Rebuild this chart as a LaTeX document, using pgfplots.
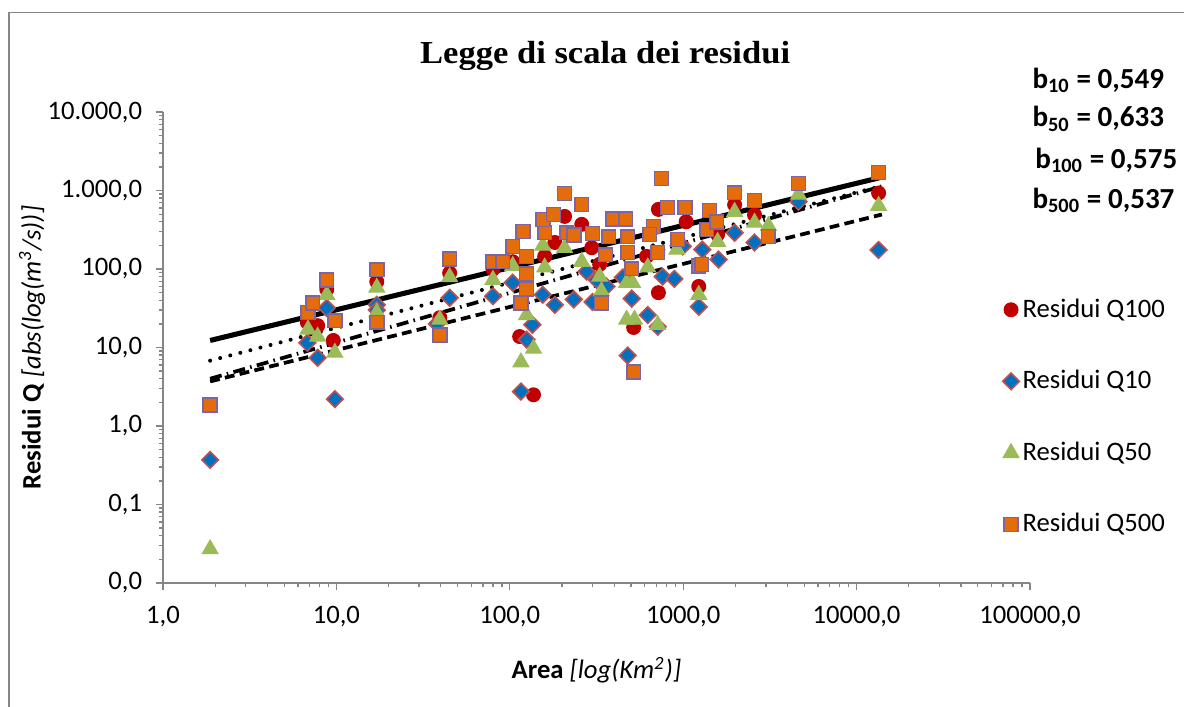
\documentclass[border=0pt]{standalone}
\usepackage{fontspec}
\setmainfont{Carlito}
\newfontfamily\titlefont[FakeStretch=1.08]{Liberation Serif}
\usepackage{pgfplots}
\pgfplotsset{compat=1.18}
\definecolor{qred}{HTML}{C00000}
\definecolor{qblue}{HTML}{0070C0}
\definecolor{qblueb}{HTML}{C0504D}
\definecolor{qgreen}{HTML}{9BBB59}
\definecolor{qorange}{HTML}{E46C0A}
\definecolor{qpurple}{HTML}{8064A2}
\definecolor{axgray}{HTML}{868686}
\begin{document}
\begin{tikzpicture}
\path[use as bounding box] (0,0) rectangle (444pt,265.125pt);
\draw[color=axgray, line width=0.6pt] (3.4pt,0pt) -- (3.4pt,260.4pt) -- (444pt,260.4pt);
\begin{axis}[
  at={(61.125pt,46.5pt)}, anchor=south west,
  scale only axis, width=325.1pt, height=176.6pt,
  xmode=log, ymode=log, xmin=1, xmax=100000, ymin=0.01, ymax=10000,
  axis x line*=bottom, axis y line*=left,
  axis line style={color=axgray, line width=0.6pt},
  tick style={color=axgray, line width=0.5pt},
  tick align=outside, major tick length=2.8pt, minor tick length=1.6pt,
  xtick={1,10,100,1000,10000,100000},
  xticklabels={{1,0},{10,0},{100,0},{1000,0},{10000,0},{100000,0}},
  minor xtick={2,3,4,5,6,7,8,9,20,30,40,50,60,70,80,90,200,300,400,500,600,700,800,900,2000,3000,4000,5000,6000,7000,8000,9000,20000,30000,40000,50000,60000,70000,80000,90000},
  ytick={0.01,0.1,1,10,100,1000,10000},
  yticklabels={{0,0},{0,1},{1,0},{10,0},{100,0},{1.000,0},{10.000,0}},
  minor ytick={0.02,0.03,0.04,0.05,0.06,0.07,0.08,0.09,0.2,0.3,0.4,0.5,0.6,0.7,0.8,0.9,2,3,4,5,6,7,8,9,20,30,40,50,60,70,80,90,200,300,400,500,600,700,800,900,2000,3000,4000,5000,6000,7000,8000,9000},
  ticklabel style={font=\fontsize{10}{12}\selectfont, text=black},
  yticklabel style={anchor=east, xshift=-1.5pt},
  xticklabel style={anchor=north, yshift=-2.5pt},
  title={\titlefont\bfseries Legge di scala dei residui},
  title style={at={(axis description cs:0.51,1.085)}, anchor=center, font=\fontsize{12}{14}\selectfont},
  xlabel={\textbf{Area} \textit{[log(Km\textsuperscript{2})]}},
  xlabel style={at={(axis description cs:0.5,-0.185)}, anchor=center, font=\fontsize{10}{12}\selectfont},
  ylabel={\textbf{Residui Q} \textit{[abs(log(m\textsuperscript{3}/s))]}},
  ylabel style={at={(axis description cs:-0.151,0.5)}, anchor=center, font=\fontsize{10}{12}\selectfont},
  legend cell align=left,
  legend image code/.code={\draw[#1] plot coordinates {(0pt,0pt)};},
  legend style={at={(axis description cs:0.968,0.612)}, anchor=north west, draw=none, fill=none,
    row sep=16pt, inner sep=0pt, font=\fontsize{10}{12}\selectfont, nodes={inner sep=1.2pt}},
]
% Q100
\addplot[only marks, mark=*, mark size=2.6pt, color=qred] coordinates {
(1.87,1.85) (6.8,21) (7.8,19) (8.8,55) (9.6,12.3) (17.1,69) (17.1,24) (39.5,24) (45,89)
(80,100) (104,124) (114,13.8) (137,2.5) (159,145) (182,218) (207,468) (260,371) (297,187)
(330,115) (615,145) (720,575) (720,50) (518,18) (1040,400) (1230,60) (1580,276) (1980,661)
(2580,490) (13400,930)
};
\addlegendentry{Residui Q100}
% Q10
\addplot[only marks, mark=square*, mark size=2.2pt, mark options={rotate=45, fill=qblue, draw=qblueb, line width=0.6pt}] coordinates {
(1.87,0.37) (6.8,11.5) (7.8,7.4) (8.8,32) (9.8,2.2) (17.1,35) (17.1,30) (38,20) (45,43)
(80,45) (104,67) (116,2.75) (125,12.6) (135,19.5) (155,47) (182,35) (234,41) (277,93)
(300,38) (317,73) (361,60) (449,78) (479,7.9) (505,42) (625,26) (713,18.4) (761,80)
(890,75) (995,194) (1230,33) (1290,177) (1600,132) (1980,290) (2580,218) (4630,720) (13400,175)
};
\addlegendentry{Residui Q10}
% Q50
\addplot[only marks, mark=triangle*, mark size=3.4pt, mark options={fill=qgreen, draw=qgreen}] coordinates {
(1.87,0.027) (6.86,17) (7.8,13.8) (8.8,47) (9.8,8.6) (17.1,58) (17.1,28) (39.5,22.7) (45,79)
(80,73) (104,110) (116,6.5) (125,26) (137,9.7) (155,199) (159,105) (207,186) (260,124)
(330,80) (338,52) (472,67) (510,67) (472,22.7) (524,22.7) (625,105) (713,19.5) (920,177)
(1230,47) (1580,223) (1980,537) (2580,390) (3100,355) (4630,890) (13400,640)
};
\addlegendentry{Residui Q50}
% Q500
\addplot[only marks, mark=square*, mark size=2.6pt, mark options={fill=qorange, draw=qpurple, line width=0.6pt}] coordinates {
(1.87,1.85) (6.86,28) (7.3,37) (8.8,73) (9.8,22) (17.1,98) (17.1,21) (39.5,14.5) (45,135)
(80,124) (91,124) (104,193) (119,300) (125,145) (125,86) (125,56) (116,37) (159,290)
(155,427) (179,494) (207,916) (260,665) (213,290) (234,270) (300,283) (392,436) (466,436)
(372,258) (479,258) (357,152) (479,162) (505,101) (338,37) (518,4.9) (675,347) (713,162)
(751,1420) (813,606) (1027,606) (1420,556) (1980,940) (1230,110) (930,237) (641,276)
(1366,318) (2580,745) (4630,1230) (13400,1700) (3100,259) (1560,400) (1280,114)
};
\addlegendentry{Residui Q500}
% trend lines
\addplot[forget plot, black, line width=1.9pt] coordinates {(1.87,12.3) (14000,1481)};
\addplot[forget plot, black, line width=1.5pt, line cap=round, dash pattern=on 0pt off 3.9pt] coordinates {(1.87,6.8) (14000,1148)};
\addplot[forget plot, black, line width=1.4pt, dash pattern=on 4.5pt off 2pt on 0.6pt off 2pt] coordinates {(1.87,4.0) (14000,1133)};
\addplot[forget plot, black, line width=1.4pt, dash pattern=on 3.7pt off 2pt] coordinates {(1.87,3.7) (14000,495)};
\end{axis}
\begin{scope}[font=\bfseries\fontsize{10.9}{12}\selectfont]
\node[anchor=base west, inner sep=0pt] at (387pt,232.1pt) {b\textsubscript{10} = 0,549};
\node[anchor=base west, inner sep=0pt] at (387pt,217.5pt) {b\textsubscript{50} = 0,633};
\node[anchor=base west, inner sep=0pt] at (388.1pt,202.1pt) {b\textsubscript{100} = 0,575};
\node[anchor=base west, inner sep=0pt] at (387pt,187.1pt) {b\textsubscript{500} = 0,537};
\end{scope}
\end{tikzpicture}
\end{document}
